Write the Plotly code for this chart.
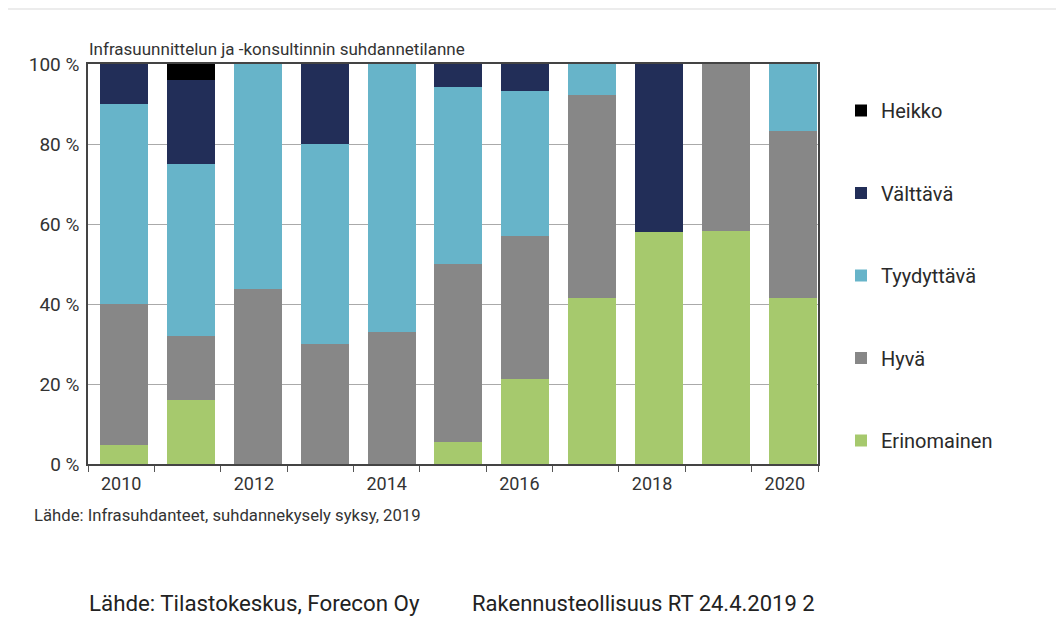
import plotly.graph_objects as go

years = ["2010", "2011", "2012", "2013", "2014", "2015", "2016", "2017", "2018", "2019", "2020"]
label_years = ["2010", "2012", "2014", "2016", "2018", "2020"]
y_ticks = [0, 20, 40, 60, 80, 100]
y_tick_labels = ["0 %", "20 %", "40 %", "60 %", "80 %", "100 %"]

erinomainen = [4.8, 16, 0, 0, 0, 5.5, 21.3, 41.6, 58, 58.3, 41.6]
hyva = [35.2, 16, 43.8, 30, 33, 44.5, 35.7, 50.7, 0, 41.7, 41.7]
tyydyttava = [50, 43, 56.2, 50, 67, 44.3, 36.3, 7.7, 0, 0, 16.7]
valttava = [10, 21, 0, 20, 0, 5.7, 6.7, 0, 42, 0, 0]
heikko = [0, 4, 0, 0, 0, 0, 0, 0, 0, 0, 0]

series = [
    ("Erinomainen", erinomainen, "#a6c96d", 5),
    ("Hyvä", hyva, "#878787", 4),
    ("Tyydyttävä", tyydyttava, "#67b4c9", 3),
    ("Välttävä", valttava, "#222e58", 2),
    ("Heikko", heikko, "#000000", 1),
]

# page offset (body margin) = 8 px
OFF = 8
W, H = 1064 - 2 * OFF, 633 - 2 * OFF
L, R, T, B = 88 - OFF, 818 - OFF, 64 - OFF, 464 - OFF
pw, ph = R - L, B - T

def px(x):
    return (x - OFF - L) / pw

def py(y):
    return (B - (y - OFF)) / ph

n = len(years)
boundaries = list(range(n + 1))
label_pos = [years.index(y) + 0.5 for y in label_years]

fig = go.Figure()
# empty trace so the tick/label axis is drawn
fig.add_trace(go.Scatter(x=[], y=[], xaxis="x", yaxis="y", showlegend=False, hoverinfo="skip"))
for name, vals, col, rank in series:
    fig.add_trace(go.Bar(x=years, y=vals, name=name, marker=dict(color=col, line=dict(width=0)),
                         legendgroup=name, legendrank=rank, xaxis="x2", yaxis="y"))

font = "Roboto"
fig.update_layout(
    width=W, height=H, autosize=False,
    margin=dict(l=L, r=W - R, t=T, b=H - B, pad=0, autoexpand=False),
    barmode="stack", bargap=0.2825,
    paper_bgcolor="#ececec", plot_bgcolor="white",
    font=dict(family=font, color="#333333", size=18),
    showlegend=True,
    legend=dict(x=px(841), y=py(91), xanchor="left", yanchor="top",
                traceorder="grouped", tracegroupgap=53.5,
                font=dict(size=20, color="#2a2a2a"), bgcolor="rgba(0,0,0,0)"),
    xaxis=dict(type="linear", range=[0, n], anchor="y",
               tickmode="array", tickvals=label_pos, ticktext=label_years, ticks="",
               ticklabelstandoff=3,
               minor=dict(tickmode="array", tickvals=boundaries, ticks="outside", ticklen=6,
                          tickcolor="#555555", tickwidth=1, showgrid=False),
               showline=True, linecolor="#444444", linewidth=1.5, mirror=True,
               showgrid=False, zeroline=False,
               tickfont=dict(size=18, color="#333333")),
    xaxis2=dict(type="category", overlaying="x", anchor="y", side="bottom",
                range=[-0.538, 10.374], showticklabels=False, ticks="",
                showline=False, showgrid=False, zeroline=False),
    yaxis=dict(range=[0, 100], tickmode="array", tickvals=y_ticks, ticktext=y_tick_labels,
               showline=True, linecolor="#444444", linewidth=1.5, mirror=True,
               showgrid=True, gridcolor="#aaaaaa", gridwidth=1, ticks="",
               ticklabelstandoff=3,
               tickfont=dict(size=19, color="#333333"), zeroline=False),
    shapes=[dict(type="rect", xref="paper", yref="paper", x0=px(OFF - 2), x1=px(1070),
                 y0=py(640), y1=py(10), fillcolor="white", line=dict(width=0), layer="below")],
    annotations=[
        dict(text="Infrasuunnittelun ja -konsultinnin suhdannetilanne", xref="paper", yref="paper",
             x=px(87), y=py(49), xanchor="left", yanchor="middle", showarrow=False,
             font=dict(size=17, color="#333333")),
        dict(text="Lähde: Infrasuhdanteet, suhdannekysely syksy, 2019", xref="paper", yref="paper",
             x=px(32), y=py(516), xanchor="left", yanchor="middle", showarrow=False,
             font=dict(size=16.7, color="#333333")),
        dict(text="Lähde: Tilastokeskus, Forecon Oy", xref="paper", yref="paper",
             x=px(87), y=py(603), xanchor="left", yanchor="middle", showarrow=False,
             font=dict(size=22.3, color="#222222")),
        dict(text="Rakennusteollisuus RT 24.4.2019 2", xref="paper", yref="paper",
             x=px(470), y=py(603), xanchor="left", yanchor="middle", showarrow=False,
             font=dict(size=22, color="#222222")),
    ],
)

fig.write_html("out.html")
